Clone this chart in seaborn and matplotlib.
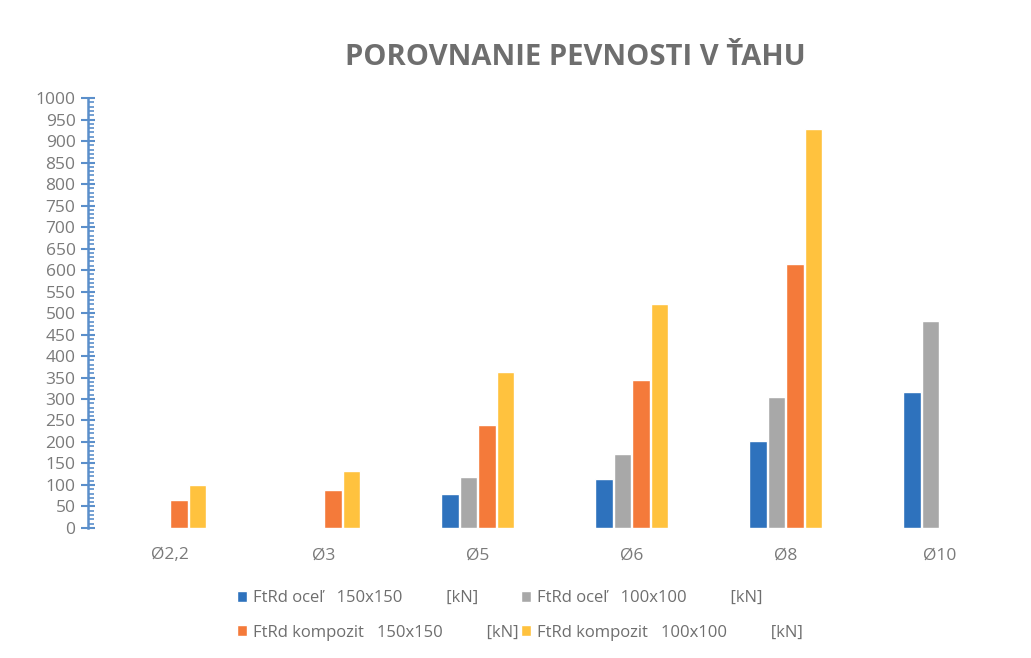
"""
Porovnanie pevnosti v tahu - grouped bar chart recreation.
"""
import numpy as np
import pandas as pd
import matplotlib
matplotlib.use("Agg")
import matplotlib.pyplot as plt
from matplotlib.ticker import MultipleLocator
import seaborn as sns

# Data
categories = ["Ø2,2", "Ø3", "Ø5", "Ø6", "Ø8", "Ø10"]
series_names = [
    "FtRd oceľ   150x150          [kN]",
    "FtRd oceľ   100x100          [kN]",
    "FtRd kompozit   150x150          [kN]",
    "FtRd kompozit   100x100          [kN]",
]
ocel_150 = [np.nan, np.nan, 79, 114, 202, 316]
ocel_100 = [np.nan, np.nan, 119, 172, 305, 481]
kompozit_150 = [65, 88, 240, 344, 615, np.nan]
kompozit_100 = [100, 133, 363, 521, 928, np.nan]
colors = ["#2E72BD", "#A8A8A8", "#F47A3A", "#FFC23E"]

df = pd.DataFrame({
    "kategoria": categories * 4,
    "seria": np.repeat(series_names, len(categories)),
    "hodnota": ocel_150 + ocel_100 + kompozit_150 + kompozit_100,
})

sns.set_style("white")
plt.rcParams["font.family"] = ["Open Sans", "DejaVu Sans"]

fig = plt.figure(figsize=(10.31, 6.58), dpi=100)
ax = fig.add_axes([0.0854, 0.1976, 0.9006, 0.6534])

sns.barplot(data=df, x="kategoria", y="hodnota", hue="seria",
            order=categories, hue_order=series_names,
            palette=colors, width=0.48, gap=0.06, ax=ax,
            saturation=1, legend=True)

ax.set_ylim(0, 1000)
ax.set_xlim(-0.53, 5.5)
ax.yaxis.set_major_locator(MultipleLocator(50))
ax.yaxis.set_minor_locator(MultipleLocator(10))
ax.set_xlabel("")
ax.set_ylabel("")

axis_blue = "#5B8FCB"
for side in ["top", "right", "bottom"]:
    ax.spines[side].set_visible(False)
ax.spines["left"].set_color(axis_blue)
ax.spines["left"].set_linewidth(1.8)
ax.tick_params(axis="y", which="major", left=True, right=False,
               direction="inout", length=10, width=1.5, color=axis_blue,
               labelsize=12.5, labelcolor="#7A7A7A", pad=4)
ax.tick_params(axis="y", which="minor", left=True, right=False,
               direction="in", length=4, width=1.2, color=axis_blue)
ax.tick_params(axis="x", length=0, labelsize=12.5, labelcolor="#7A7A7A", pad=14)

fig.suptitle("POROVNANIE PEVNOSTI V ŤAHU", x=0.558, y=0.935,
             fontsize=21, fontweight="bold", color="#6E6E6E")

# legend filled row by row, like the original
handles, labels = ax.get_legend_handles_labels()
order = [0, 2, 1, 3]
ax.legend([handles[i] for i in order], [labels[i] for i in order],
          ncol=2, loc="upper center",
          bbox_to_anchor=(0.465, -0.11), frameon=False,
          fontsize=12, labelcolor="#6E6E6E", handlelength=0.6,
          handleheight=0.6, handletextpad=0.4, columnspacing=0.1,
          labelspacing=1.1)

fig.savefig("out.png", dpi=100, facecolor="white")
